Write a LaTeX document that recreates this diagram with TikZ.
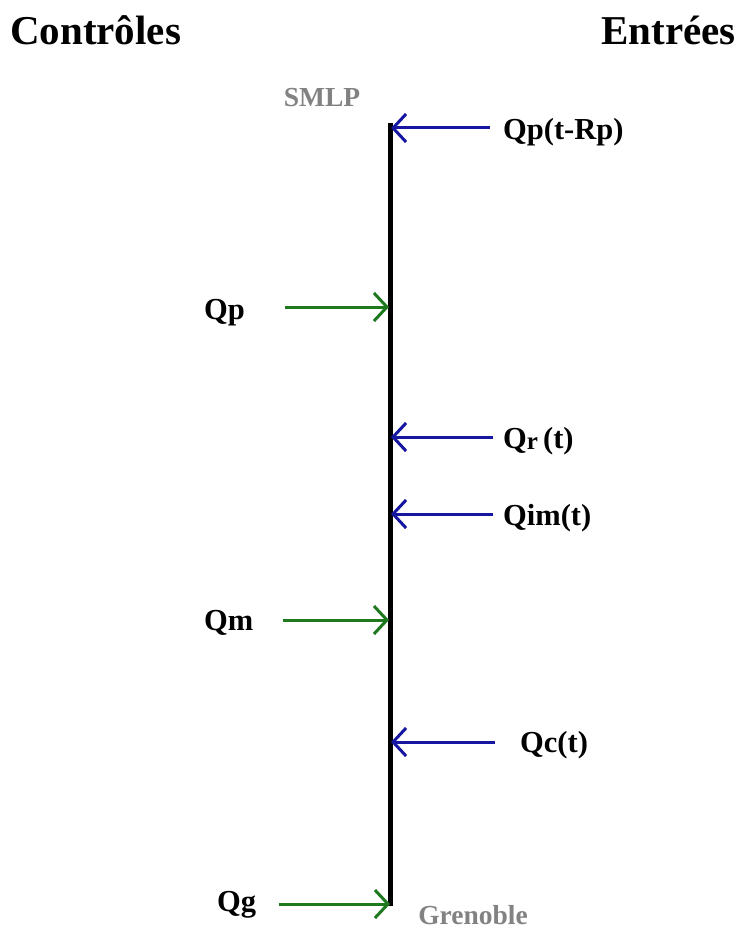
\documentclass[tikz,border=0pt]{standalone}
\usepackage{fontspec}
\setmainfont{Liberation Serif}
\usetikzlibrary{arrows.meta}
\definecolor{inblue}{RGB}{22,22,160}
\definecolor{ctgreen}{RGB}{30,120,30}
\definecolor{lblgray}{RGB}{130,130,130}
\begin{document}
\begin{tikzpicture}[x=1pt,y=-1pt,
  lbl/.style={font=\fontsize{30.5}{32}\selectfont\bfseries, inner sep=0pt, anchor=west},
  ttl/.style={font=\fontsize{41}{43}\selectfont\bfseries, inner sep=0pt},
  place/.style={font=\fontsize{27.5}{29}\selectfont\bfseries, text=lblgray, inner sep=0pt},
  inarrow/.style={draw=inblue, line width=3pt, -{Straight Barb[length=13pt,width=28pt,line width=3pt]}},
  ctarrow/.style={draw=ctgreen, line width=3pt, -{Straight Barb[length=13pt,width=28pt,line width=3pt]}},
  reach/.style={line width=5pt, line cap=butt}]
\useasboundingbox (0,0) rectangle (739,931);
% titles
\node[ttl, anchor=west] (ctrl) at (10,30) {Contrôles};
\node[ttl, anchor=east] (entr) at (736,30) {Entrées};
% river reach
\coordinate (top) at (390,123);
\coordinate (bot) at (390,906);
\draw[reach] (top) -- (bot);
\node[place] (smlp) at (322,98) {SMLP};
\node[place] (gren) at (473,915) {Grenoble};
% inputs
\node[lbl] (qpt) at (503,132) {Qp(t-Rp)};
\coordinate (qpt0) at (490,128); \coordinate (qpt1) at (391,128);
\draw[inarrow] (qpt0) -- (qpt1);
\node[lbl] (qr) at (503,441) {Q\raisebox{-1pt}{\fontsize{25}{25}\selectfont r}\,(t)};
\coordinate (qr0) at (493,437); \coordinate (qr1) at (391,437);
\draw[inarrow] (qr0) -- (qr1);
\node[lbl] (qim) at (503,518) {Qim(t)};
\coordinate (qim0) at (493,514); \coordinate (qim1) at (391,514);
\draw[inarrow] (qim0) -- (qim1);
\node[lbl] (qc) at (520,745) {Qc(t)};
\coordinate (qc0) at (495,742); \coordinate (qc1) at (391,742);
\draw[inarrow] (qc0) -- (qc1);
% controls
\node[lbl] (qp) at (204,313) {Qp};
\coordinate (qp0) at (285,307); \coordinate (qp1) at (389,307);
\draw[ctarrow] (qp0) -- (qp1);
\node[lbl] (qm) at (204,623) {Qm};
\coordinate (qm0) at (283,620); \coordinate (qm1) at (389,620);
\draw[ctarrow] (qm0) -- (qm1);
\node[lbl] (qg) at (217,905) {Qg};
\coordinate (qg0) at (279,904); \coordinate (qg1) at (390,904);
\draw[ctarrow] (qg0) -- (qg1);
\end{tikzpicture}
\end{document}
